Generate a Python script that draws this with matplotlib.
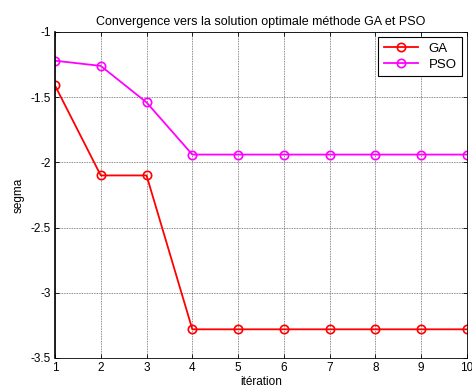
import matplotlib.pyplot as plt

plt.rcParams["font.family"] = ["Liberation Sans", "DejaVu Sans"]

iterations = [1, 2, 3, 4, 5, 6, 7, 8, 9, 10]
ga_values = [-1.41, -2.10, -2.10, -3.28, -3.28, -3.28, -3.28, -3.28, -3.28, -3.28]
pso_values = [-1.22, -1.26, -1.54, -1.94, -1.94, -1.94, -1.94, -1.94, -1.94, -1.94]
y_ticks = [-3.5, -3, -2.5, -2, -1.5, -1]
y_labels = ["-3.5", "-3", "-2.5", "-2", "-1.5", "-1"]

fig = plt.figure(figsize=(4.72, 3.91), dpi=100)
ax = fig.add_axes([55 / 472, 1 - 358 / 391, 412 / 472, 326 / 391])

ax.plot(iterations, ga_values, color="red", marker="o", markersize=6,
        markerfacecolor="none", markeredgewidth=1.2, linewidth=1.3, label="GA")
ax.plot(iterations, pso_values, color="magenta", marker="o", markersize=6,
        markerfacecolor="none", markeredgewidth=1.2, linewidth=1.3, label="PSO")

ax.set_xlim(1, 10)
ax.set_ylim(-3.5, -1)
ax.set_xticks(iterations)
ax.set_yticks(y_ticks)
ax.set_yticklabels(y_labels)
ax.tick_params(direction="in", labelsize=8.5, length=3, width=0.6, top=True, right=True, pad=3)
ax.grid(True, color="0.4", linestyle=(0, (1, 1)), linewidth=0.6)

for side in ["top", "right", "bottom"]:
    ax.spines[side].set_linewidth(0.6)
ax.spines["left"].set_linewidth(1.2)

ax.set_title("Convergence vers la solution optimale méthode GA et PSO", fontsize=9, pad=5)
ax.set_xlabel("itération", fontsize=8.5, labelpad=1)
ax.set_ylabel("segma", fontsize=8.5, labelpad=4)

leg = ax.legend(loc="upper right", fontsize=9.5, fancybox=False, framealpha=1,
                edgecolor="black", handlelength=2.6, borderaxespad=0.4,
                borderpad=0.4, labelspacing=0.3)
leg.get_frame().set_linewidth(0.8)

fig.savefig("out.png", dpi=100)
